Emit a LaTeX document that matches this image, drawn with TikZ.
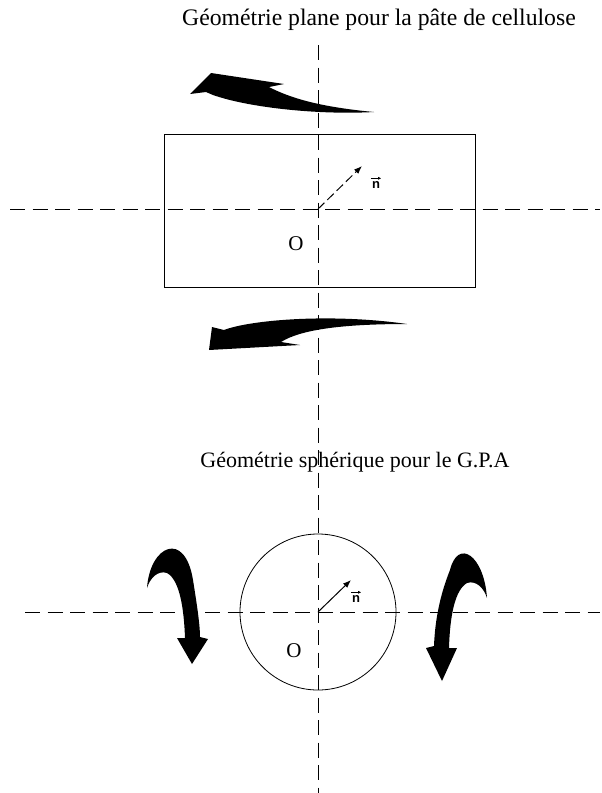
\documentclass[tikz,border=0pt]{standalone}
\usepackage{amsmath}
\usepackage{fontspec}
\setmainfont{Liberation Serif}
\setsansfont{Liberation Sans}
\usetikzlibrary{arrows.meta}

\begin{document}
\begin{tikzpicture}[x=1pt, y=-1pt,
        axe/.style={dash pattern=on 15pt off 7.5pt, line width=0.9pt},
        contour/.style={draw, line width=0.8pt, inner sep=0pt},
        titre/.style={anchor=base, font=\fontsize{23.7}{24}\selectfont},
        origine/.style={anchor=base, font=\fontsize{21}{21}\selectfont},
        normale/.style={line width=1pt, dash pattern=on 9pt off 4pt, -{Latex[length=8pt,width=6pt]}},
        vecteur/.style={inner sep=0pt, font=\fontsize{13}{13}\sffamily\bfseries},
        accent/.style={line width=0.7pt, -{Latex[length=3pt,width=3pt]}},
        fleche/.style={fill=black}]

  \useasboundingbox (0,0) rectangle (602,793);

  % geometrie plane
  \node[titre] (titreplan) at (379,25) {Géométrie plane pour la pâte de cellulose};
  \node[contour, minimum width=311pt, minimum height=153pt] (plaque) at (319.5,210.5) {};

  \coordinate (haut) at (318,45);
  \coordinate (bas) at (318,793);
  \coordinate (gauche1) at (10,209);
  \coordinate (droite1) at (600,209);
  \draw[axe] (haut) -- (bas);
  \draw[axe] (gauche1) -- (droite1);

  \coordinate (O1) at (318,209);
  \coordinate (n1) at (362,166);
  \draw[normale] (O1) -- (n1);
  \node[vecteur] (vn1) at (376,185) {n};
  \draw[accent] ([xshift=-1pt, yshift=3pt]vn1.north west) -- ([xshift=1pt, yshift=3pt]vn1.north east);
  \node[origine] (orig1) at (296,250) {O};

  % fleches de cisaillement
  \fill[fleche] (190,94) -- (211,73) -- (284,84) -- (269,87)
        .. controls (290,98) and (320,107) .. (374,112)
        .. controls (320,115) and (250,108) .. (213,95)
        -- (206,92) -- cycle;
  \fill[fleche] (212,327) -- (224,330)
        .. controls (250,320) and (330,313) .. (407,324)
        .. controls (340,324) and (300,330) .. (281,342)
        -- (300,345) -- (209,350) -- cycle;

  % geometrie spherique
  \node[titre, font=\fontsize{22}{22}\selectfont] (titresphere) at (355,467) {Géométrie sphérique pour le G.P.A};
  \node[contour, circle, minimum size=156pt] (sphere) at (318,612) {};

  \coordinate (gauche2) at (25,612);
  \coordinate (droite2) at (600,612);
  \draw[axe] (gauche2) -- (droite2);

  \coordinate (O2) at (318,612);
  \coordinate (n2) at (351,580);
  \draw[normale, dash pattern=on 40pt off 0pt] (O2) -- (n2);
  \node[vecteur] (vn2) at (356,599) {n};
  \draw[accent] ([xshift=-1pt, yshift=3pt]vn2.north west) -- ([xshift=1pt, yshift=3pt]vn2.north east);
  \node[origine] (orig2) at (294,657) {O};

  % fleches de rotation
  \fill[fleche] (147,588) .. controls (150,545) and (185,530) .. (193,580)
        .. controls (197,605) and (200,625) .. (200,637)
        -- (208,639) -- (192,664) -- (177,638) -- (185,638)
        .. controls (184,610) and (180,580) .. (167,573)
        .. controls (158,570) and (150,578) .. cycle;
  \fill[fleche] (487,598) .. controls (484,555) and (458,538) .. (450,570)
        .. controls (440,595) and (435,620) .. (434,646)
        -- (426,648) -- (442,681) -- (457,648) -- (449,648)
        .. controls (450,615) and (455,590) .. (467,583)
        .. controls (476,580) and (484,588) .. cycle;
\end{tikzpicture}
\end{document}
